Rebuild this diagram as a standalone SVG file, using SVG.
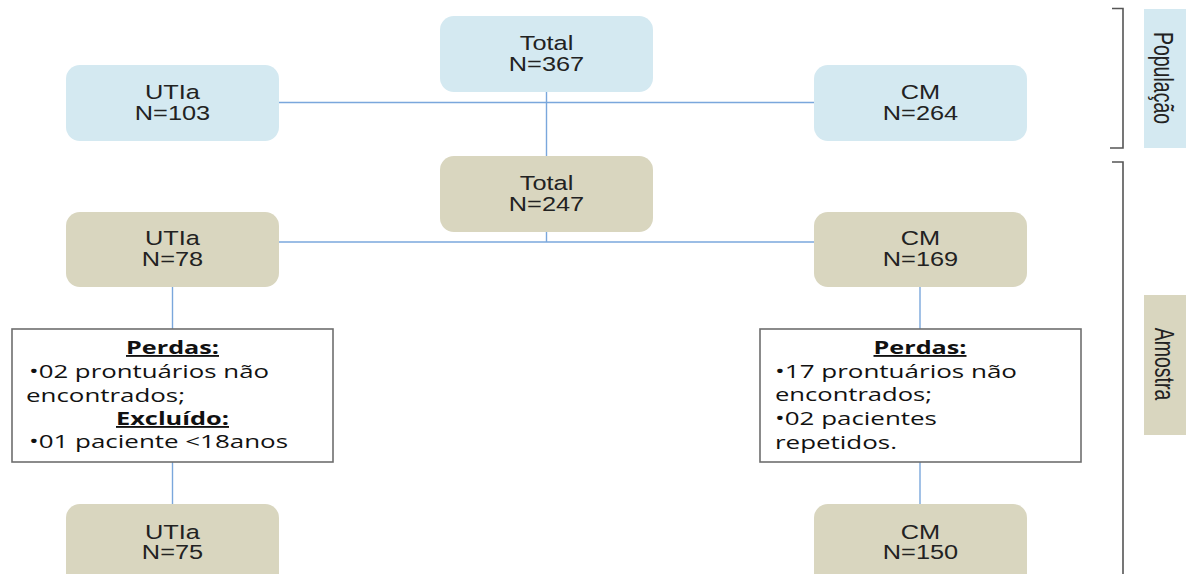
<svg xmlns="http://www.w3.org/2000/svg" width="1186" height="574" viewBox="0 0 1186 574">
<style>
.blue{fill:#d4e9f1}
.tan{fill:#d9d6bf}
.nt{font-family:"Liberation Sans",Arial,sans-serif;font-size:19.5px;fill:#222;text-anchor:middle}
.conn{stroke:#7aa7dc;stroke-width:1.4;fill:none}
.box{fill:#fff;stroke:#6e6e6e;stroke-width:1.6}
.pt{font-family:"Open Sans",sans-serif;font-size:18.5px;fill:#111}
.hd{font-weight:bold;text-decoration:underline;text-anchor:middle}
.br{stroke:#555;stroke-width:1.6;fill:none}
.lab{font-family:"Liberation Sans",Arial,sans-serif;font-size:19.5px;fill:#222;text-anchor:middle;dominant-baseline:central}
</style>
<rect width="1186" height="574" fill="#fff"/>
<g id="connectors">
<line class="conn" x1="279" y1="102.5" x2="814" y2="102.5"/>
<line class="conn" x1="546.5" y1="92" x2="546.5" y2="156"/>
<line class="conn" x1="279" y1="242" x2="814" y2="242"/>
<line class="conn" x1="546.5" y1="232" x2="546.5" y2="242"/>
<line class="conn" x1="172.5" y1="287" x2="172.5" y2="329"/>
<line class="conn" x1="172.5" y1="462" x2="172.5" y2="504"/>
<line class="conn" x1="920" y1="287" x2="920" y2="329"/>
<line class="conn" x1="920" y1="462" x2="920" y2="504"/>
</g>
<g id="total-pop">
<rect class="blue" x="440" y="16" width="213" height="76" rx="14"/>
<g transform="translate(546.5,0) scale(1.3,1)"><text class="nt" x="0" y="50.5">Total</text><text class="nt" x="0" y="71">N=367</text></g>
</g>
<g id="utia-pop">
<rect class="blue" x="66" y="65" width="213" height="76" rx="14"/>
<g transform="translate(172.5,0) scale(1.3,1)"><text class="nt" x="0" y="99.5">UTIa</text><text class="nt" x="0" y="120">N=103</text></g>
</g>
<g id="cm-pop">
<rect class="blue" x="814" y="65" width="213" height="76" rx="14"/>
<g transform="translate(920.5,0) scale(1.3,1)"><text class="nt" x="0" y="99.5">CM</text><text class="nt" x="0" y="120">N=264</text></g>
</g>
<g id="total-amostra">
<rect class="tan" x="440" y="156" width="213" height="76" rx="14"/>
<g transform="translate(546.5,0) scale(1.3,1)"><text class="nt" x="0" y="190.5">Total</text><text class="nt" x="0" y="211">N=247</text></g>
</g>
<g id="utia-78">
<rect class="tan" x="66" y="212" width="213" height="75" rx="14"/>
<g transform="translate(172.5,0) scale(1.3,1)"><text class="nt" x="0" y="245.5">UTIa</text><text class="nt" x="0" y="266">N=78</text></g>
</g>
<g id="cm-169">
<rect class="tan" x="814" y="212" width="213" height="75" rx="14"/>
<g transform="translate(920.5,0) scale(1.3,1)"><text class="nt" x="0" y="245.5">CM</text><text class="nt" x="0" y="266">N=169</text></g>
</g>
<g id="perdas-utia">
<rect class="box" x="12" y="329" width="321" height="133"/>
<text class="pt hd" x="172.5" y="354" textLength="93" lengthAdjust="spacingAndGlyphs">Perdas:</text>
<text class="pt" x="29" y="378" textLength="240" lengthAdjust="spacingAndGlyphs">•02 prontuários não</text>
<text class="pt" x="26" y="402" textLength="159" lengthAdjust="spacingAndGlyphs">encontrados;</text>
<text class="pt hd" x="172.5" y="425" textLength="113" lengthAdjust="spacingAndGlyphs">Excluído:</text>
<text class="pt" x="29" y="448" textLength="259" lengthAdjust="spacingAndGlyphs">•01 paciente &lt;18anos</text>
</g>
<g id="perdas-cm">
<rect class="box" x="760" y="329" width="321" height="133"/>
<text class="pt hd" x="920" y="354" textLength="93" lengthAdjust="spacingAndGlyphs">Perdas:</text>
<text class="pt" x="775" y="378" textLength="242" lengthAdjust="spacingAndGlyphs">•17 prontuários não</text>
<text class="pt" x="775" y="401" textLength="157" lengthAdjust="spacingAndGlyphs">encontrados;</text>
<text class="pt" x="775" y="425" textLength="162" lengthAdjust="spacingAndGlyphs">•02 pacientes</text>
<text class="pt" x="775" y="449" textLength="122" lengthAdjust="spacingAndGlyphs">repetidos.</text>
</g>
<g id="utia-75">
<rect class="tan" x="66" y="504" width="213" height="90" rx="14"/>
<g transform="translate(172.5,0) scale(1.3,1)"><text class="nt" x="0" y="539">UTIa</text><text class="nt" x="0" y="559">N=75</text></g>
</g>
<g id="cm-150">
<rect class="tan" x="814" y="504" width="213" height="90" rx="14"/>
<g transform="translate(920.5,0) scale(1.3,1)"><text class="nt" x="0" y="539">CM</text><text class="nt" x="0" y="559">N=150</text></g>
</g>
<g id="brackets">
<path class="br" d="M1112,8.5 H1123 V148 H1110"/>
<path class="br" d="M1112,162 H1123 V574"/>
</g>
<g id="label-populacao">
<rect class="blue" x="1144" y="9" width="42" height="139"/>
<g transform="translate(1163,78) scale(1.4,1) rotate(90)"><text class="lab" x="0" y="0">População</text></g>
</g>
<g id="label-amostra">
<rect class="tan" x="1144" y="295" width="42" height="140"/>
<g transform="translate(1164,364) scale(1.4,1) rotate(90)"><text class="lab" x="0" y="0">Amostra</text></g>
</g>
</svg>
